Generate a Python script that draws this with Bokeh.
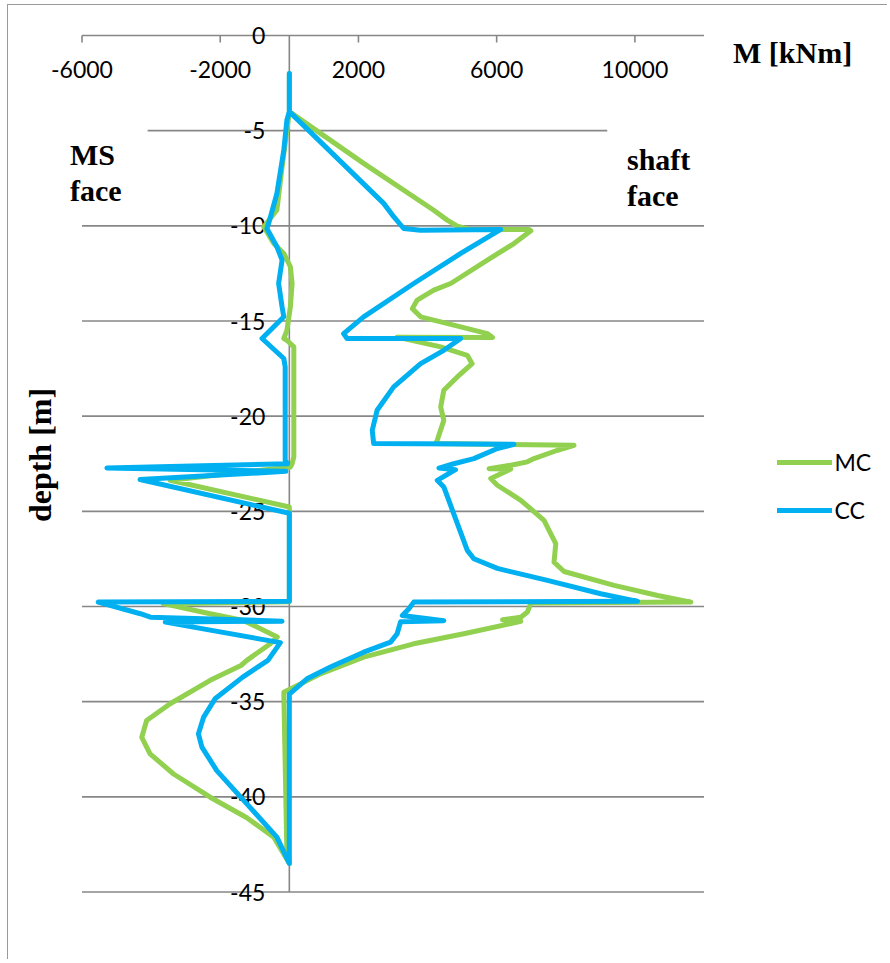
import math
from bokeh.plotting import figure
from bokeh.models import Range1d, Label, Legend, LegendItem
from bokeh.core.properties import value
from bokeh.embed import file_html
from bokeh.resources import INLINE

# ---------------- data (M in kNm, depth in m) ----------------
x_axis_min, x_axis_max = -6000, 12000
depth_axis_min, depth_axis_max = -45, 0
x_ticks = [-6000, -2000, 2000, 6000, 10000]
x_tick_labels = ["-6000", "-2000", "2000", "6000", "10000"]
depth_ticks = [0, -5, -10, -15, -20, -25, -30, -35, -40, -45]
depth_tick_labels = ["0", "-5", "-10", "-15", "-20", "-25", "-30", "-35", "-40", "-45"]
grid_depths = [-10, -15, -20, -25, -30, -35, -40, -45]
short_grid_depth = -5
short_grid_x0, short_grid_x1 = -4100, 9200

# MC: shaft-face branch (top -> bottom)
mc_right_x = [0, 0, 2150, 4180, 4570, 4860, 5200, 6940, 6990, 6500, 5730, 4670, 4180, 3700,
              3560, 3800, 4960, 5730, 5880, 3120, 4380, 5150, 5290, 4860, 4470, 4380, 4470,
              4280, 4230, 8240, 7760, 7080, 6890, 6410, 5780, 6410, 5830, 6020, 6700, 7370,
              7710, 7660, 7950, 9400, 10660, 11620, 6990, 6890, 6700, 6170, 6700, 5050, 3600,
              2150, 900, 30, -160, -70, 0]
mc_right_depth = [-2.0, -4.0, -6.72, -9.18, -9.70, -10.02, -10.18, -10.19, -10.26, -10.93,
                  -11.8, -13.03, -13.38, -13.9, -14.35, -14.78, -15.31, -15.66, -15.87,
                  -15.85, -16.36, -16.8, -17.24, -17.94, -18.64, -19.52, -20.22, -21.27,
                  -21.44, -21.53, -21.79, -22.23, -22.4, -22.58, -22.76, -22.78, -23.28,
                  -23.63, -24.42, -25.47, -26.7, -27.67, -28.16, -28.89, -29.42, -29.77,
                  -29.82, -30.29, -30.56, -30.7, -30.78, -31.43, -31.96, -32.66, -33.54,
                  -34.33, -34.5, -43.0, -43.5]
# MC: MS-face branch (bottom -> top)
mc_left_x = [0, -450, -1230, -2290, -3350, -4030, -4270, -4130, -3450, -2290, -1400, -1230,
             -550, -350, -1330, -2290, -3650, 0, 0, -3450, 30, 80, 130, 130, -70, -160, -70,
             30, 80, 30, -160, -450, -740, -360, -210, 0]
mc_left_depth = [-43.5, -42.12, -41.1, -40.02, -38.8, -37.74, -36.87, -35.99, -35.11, -33.88,
                 -33.1, -32.83, -31.96, -31.6, -30.73, -30.38, -29.85, -29.75, -24.77,
                 -23.37, -22.67, -22.5, -22.14, -16.36, -16.01, -15.92, -15.49, -14.26,
                 -13.03, -12.15, -11.45, -10.93, -10.05, -9.17, -6.9, -4.0]

# CC: shaft-face branch (top -> bottom)
cc_right_x = [0, 0, 2730, 3020, 3310, 3800, 6120, 4960, 3600, 2150, 1570, 1670, 4960, 4470,
              3800, 3020, 2540, 2400, 2440, 6500, 6020, 5340, 4760, 4330, 4810, 4280, 4470,
              5150, 5340, 6020, 7470, 9010, 10080, 3600, 3460, 3270, 4470, 3220, 3120, 2930,
              2150, 1190, 510, 0, 0]
cc_right_depth = [-2.0, -4.0, -8.82, -9.52, -10.14, -10.23, -10.19, -11.45, -13.03, -14.78,
                  -15.66, -15.92, -15.92, -16.54, -17.24, -18.46, -19.69, -20.74, -21.44,
                  -21.48, -21.7, -22.23, -22.5, -22.73, -22.81, -23.37, -23.72, -27.05,
                  -27.49, -28.0, -28.63, -29.33, -29.73, -29.77, -30.12, -30.47, -30.75,
                  -30.8, -31.43, -31.87, -32.4, -33.18, -33.8, -34.6, -43.5]
# CC: MS-face branch (bottom -> top)
cc_left_x = [0, -360, -1230, -2100, -2530, -2630, -2480, -2150, -1350, -620, -260, -3590,
             -210, -4020, -4310, -5530, 0, 0, -4320, -100, -5280, -50, -120, -120, -160, -790,
             -160, -210, -310, -210, -360, -650, -600, -360, -160, -70, 0]
cc_left_depth = [-43.5, -42.12, -40.37, -38.62, -37.39, -36.69, -35.81, -34.85, -33.71,
                 -32.83, -31.9, -30.82, -30.77, -30.56, -30.38, -29.77, -29.73, -25.1,
                 -23.33, -22.9, -22.72, -22.5, -22.32, -17.41, -16.97, -15.92, -14.78,
                 -14.26, -13.03, -11.8, -11.1, -10.14, -9.88, -8.3, -6.02, -4.44, -4.0]

# ---------------- layout (page pixels) ----------------
W, H = 880, 955                 # figure size
FIG_X0, FIG_Y0 = 8.5, 5.5       # page position of figure content (margin + border)
AX_PX0, AX_PX1 = 82.0, 704.0    # page x of x_axis_min / x_axis_max
AY_PY0, AY_PY1 = 35.5, 892.0    # page y of depth 0 / depth -45

xs = (AX_PX1 - AX_PX0) / (x_axis_max - x_axis_min)
ys = (AY_PY1 - AY_PY0) / (depth_axis_max - depth_axis_min)
x_start = x_axis_min - (AX_PX0 - FIG_X0) / xs
x_end = x_start + W / xs
y_end = depth_axis_max + (AY_PY0 - FIG_Y0) / ys
y_start = y_end - H / ys

def px_x(px):
    return x_start + (px - FIG_X0) / xs

def px_y(py):
    return y_end - (py - FIG_Y0) / ys

GRAY = "#878787"
GREEN = "#92D050"
BLUE = "#00B0F0"
TICK_FONT = "Lato"
SERIF = "Liberation Serif"

p = figure(width=W, height=H,
           x_range=Range1d(x_start, x_end), y_range=Range1d(y_start, y_end),
           output_backend="svg", toolbar_location=None,
           min_border=0, min_border_left=0, min_border_right=0,
           min_border_top=0, min_border_bottom=0)
p.axis.visible = False
p.grid.visible = False
p.outline_line_color = None
p.background_fill_color = "white"
p.border_fill_color = "white"
p.styles = {"margin-left": "7px", "margin-top": "4px",
            "border-left": "1.5px solid #9a9a9a", "border-top": "1.5px solid #9a9a9a"}

# gridlines
p.segment(x0=[x_axis_min] * len(grid_depths), y0=grid_depths,
          x1=[x_axis_max] * len(grid_depths), y1=grid_depths,
          line_color=GRAY, line_width=1.6)
p.segment(x0=[short_grid_x0], y0=[short_grid_depth], x1=[short_grid_x1], y1=[short_grid_depth],
          line_color=GRAY, line_width=1.6)

# axis lines
p.segment(x0=[x_axis_min], y0=[depth_axis_max], x1=[x_axis_max], y1=[depth_axis_max],
          line_color=GRAY, line_width=1.6)
p.segment(x0=[0], y0=[depth_axis_max], x1=[0], y1=[depth_axis_min],
          line_color=GRAY, line_width=1.6)
# x tick marks (7 px, pointing down)
tick_len = 7 / ys
p.segment(x0=x_ticks, y0=[depth_axis_max] * len(x_ticks),
          x1=x_ticks, y1=[depth_axis_max - tick_len] * len(x_ticks),
          line_color=GRAY, line_width=1.6)

# tick labels
p.text(x=x_ticks, y=[depth_axis_max] * len(x_ticks), text=x_tick_labels,
       text_font=value(TICK_FONT), text_font_size=value("23px"), text_color="black",
       text_align="center", text_baseline="alphabetic", y_offset=34)
p.text(x=[0] * len(depth_ticks), y=depth_ticks, text=depth_tick_labels,
       text_font=value(TICK_FONT), text_font_size=value("23px"), text_color="black",
       text_align="right", text_baseline="alphabetic", x_offset=-24, y_offset=0)

# series
r_mc = p.line(mc_right_x + mc_left_x, mc_right_depth + mc_left_depth,
              line_color=GREEN, line_width=5, line_join="round", line_cap="round")
r_cc = p.line(cc_right_x + cc_left_x, cc_right_depth + cc_left_depth,
              line_color=BLUE, line_width=5, line_join="round", line_cap="round")

ITEM_H, ITEM_GAP = 28, 20
legend_bottom_py = 462 - ITEM_H / 2 + 2 * ITEM_H + ITEM_GAP
legend = Legend(items=[LegendItem(label="MC", renderers=[r_mc]),
                       LegendItem(label="CC", renderers=[r_cc])],
                location=(777 - FIG_X0, H - (legend_bottom_py - FIG_Y0)))
legend.glyph_width = 55
legend.glyph_height = ITEM_H
legend.label_height = ITEM_H
legend.spacing = ITEM_GAP
legend.padding = 0
legend.margin = 0
legend.label_standoff = 3
legend.border_line_color = None
legend.background_fill_alpha = 0
legend.label_text_font = TICK_FONT
legend.label_text_font_size = "23px"
legend.label_text_color = "black"
p.add_layout(legend)

def add_label(text, px, py, angle=0.0, align="left", baseline="alphabetic", size="30px"):
    p.add_layout(Label(x=px_x(px), y=px_y(py), text=text, angle=angle, text_align=align,
                       text_baseline=baseline, text_font=SERIF, text_font_style="bold",
                       text_font_size=size, text_color="black"))

add_label("M [kNm]", 733, 52)
add_label("MS", 70, 154)
add_label("face", 70, 190)
add_label("shaft", 627, 159)
add_label("face", 627, 195)
add_label("depth [m]", 40, 455, angle=math.pi / 2, align="center", baseline="middle", size="32px")

open("out.html", "w").write(file_html(p, INLINE))
